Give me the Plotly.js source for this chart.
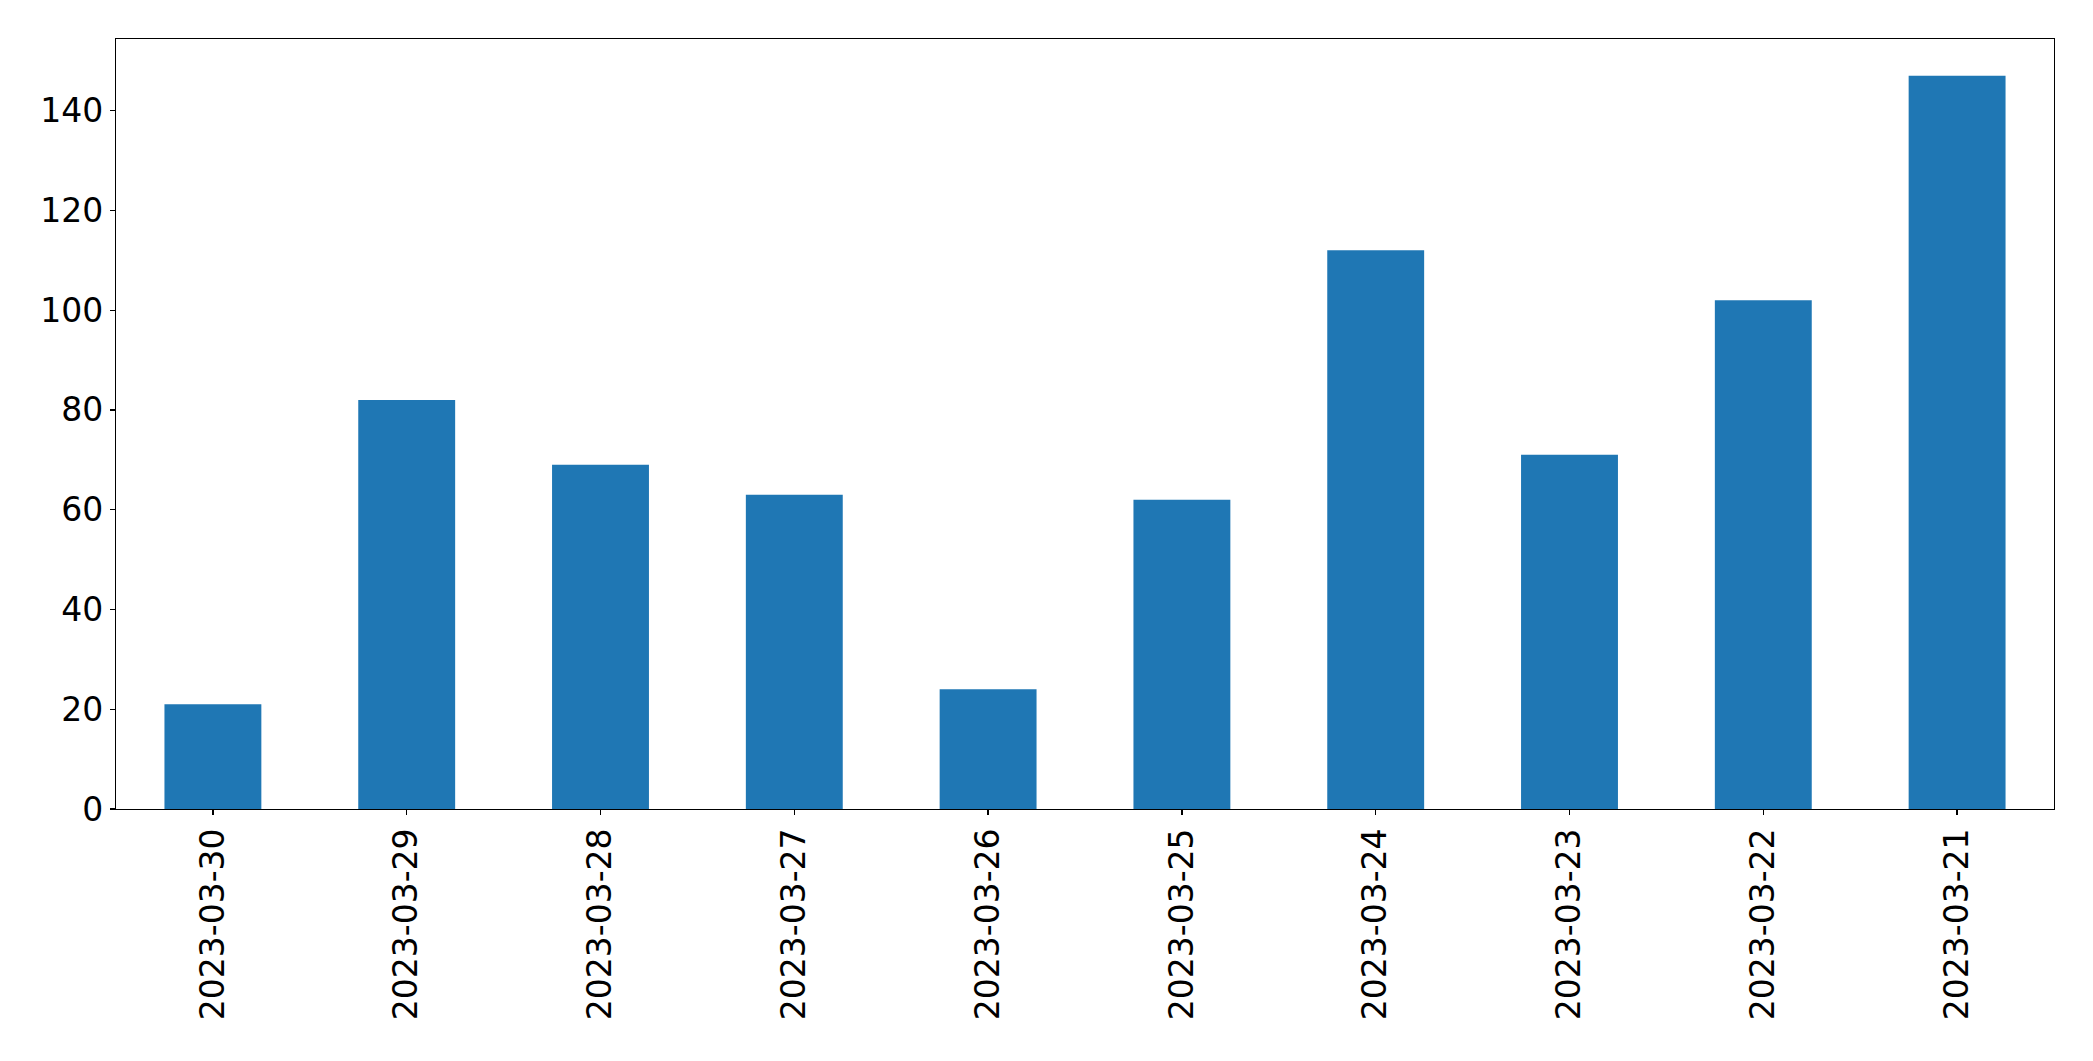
<!DOCTYPE html>
<html>
<head>
<meta charset="utf-8">
<script src="https://cdn.plot.ly/plotly-3.0.1.min.js"></script>
<style>html,body{margin:0;padding:0;background:#fff;}#chart{width:2093px;height:1061px;}</style>
</head>
<body>
<div id="chart"></div>
<script>
const dates = ["2023-03-30","2023-03-29","2023-03-28","2023-03-27","2023-03-26","2023-03-25","2023-03-24","2023-03-23","2023-03-22","2023-03-21"];
const counts = [21, 82, 69, 63, 24, 62, 112, 71, 102, 147];
const yTicks = [0, 20, 40, 60, 80, 100, 120, 140];

const fontFam = "DejaVu Sans, sans-serif";
const trace = {
  type: "bar",
  x: dates,
  y: counts,
  marker: {color: "#1f77b4", line: {width: 0}},
  hoverinfo: "x+y"
};
const layout = {
  width: 2093,
  height: 1061,
  margin: {l: 116, r: 39, t: 39, b: 252, pad: 0},
  paper_bgcolor: "#ffffff",
  plot_bgcolor: "#ffffff",
  showlegend: false,
  bargap: 0.5,
  font: {family: fontFam, color: "#000000", size: 33},
  xaxis: {
    type: "category",
    range: [-0.5, 9.5],
    tickangle: -90,
    ticks: "outside",
    ticklen: 5,
    tickwidth: 1.2,
    tickcolor: "#000",
    showline: true,
    linecolor: "#000",
    linewidth: 1.2,
    mirror: true,
    showgrid: false,
    zeroline: false,
    tickfont: {family: fontFam, size: 33, color: "#000"}
  },
  yaxis: {
    range: [0, 154.35],
    tickmode: "array",
    tickvals: yTicks,
    ticktext: yTicks.map(String),
    ticks: "outside",
    ticklen: 5,
    tickwidth: 1.2,
    tickcolor: "#000",
    showline: true,
    linecolor: "#000",
    linewidth: 1.2,
    mirror: true,
    showgrid: false,
    zeroline: false,
    tickfont: {family: fontFam, size: 33, color: "#000"}
  }
};
Plotly.newPlot("chart", [trace], layout, {displayModeBar: false, staticPlot: true});
</script>
</body>
</html>
